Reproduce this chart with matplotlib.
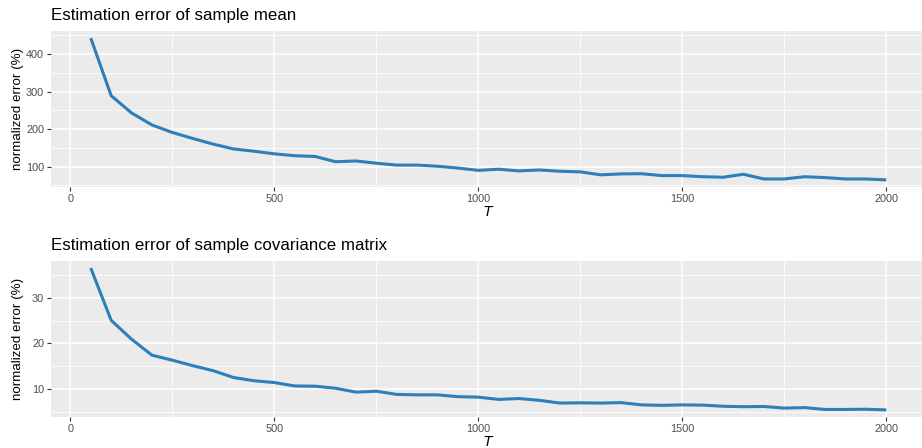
import numpy as np
import matplotlib
matplotlib.use("Agg")
import matplotlib.pyplot as plt
from matplotlib.ticker import MultipleLocator

plt.rcParams['font.family'] = ['Liberation Sans', 'DejaVu Sans']

# number of samples T
T = list(range(50, 2001, 50))

# normalized error (%) of the sample mean
err_mean = [442.6, 289, 243, 211, 191, 175, 160, 147, 141, 134,
            129, 127, 113, 115, 109, 104, 104, 101, 96, 90,
            93, 88.5, 91, 87.6, 86, 78, 80.5, 81, 76, 76,
            73, 71.6, 79.6, 67, 67, 73, 70.7, 67, 67, 64.5]

# normalized error (%) of the sample covariance matrix
err_cov = [36.5, 25.05, 20.9, 17.4, 16.3, 15.1, 14.0, 12.5, 11.8, 11.4,
           10.65, 10.6, 10.15, 9.3, 9.5, 8.8, 8.7, 8.7, 8.3, 8.2,
           7.7, 7.9, 7.5, 6.9, 6.95, 6.9, 7.0, 6.5, 6.4, 6.5,
           6.45, 6.2, 6.1, 6.15, 5.8, 5.9, 5.5, 5.5, 5.55, 5.4]

titles = ["Estimation error of sample mean",
          "Estimation error of sample covariance matrix"]

W, H = 922, 448
fig = plt.figure(figsize=(W / 100, H / 100), dpi=100)

# panel boxes in pixels: left, top, right, bottom
boxes = [(51, 31, 926, 187), (51, 261, 926, 417)]
ymajor = [100, 10]


def style_panel(ax, major):
    ax.set_facecolor('#EBEBEB')
    for s in ax.spines.values():
        s.set_visible(False)
    ax.xaxis.set_major_locator(MultipleLocator(500))
    ax.xaxis.set_minor_locator(MultipleLocator(250))
    ax.yaxis.set_major_locator(MultipleLocator(major))
    ax.yaxis.set_minor_locator(MultipleLocator(major / 2))
    ax.grid(which='major', color='white', linewidth=1.1)
    ax.grid(which='minor', color='white', linewidth=0.55)
    ax.set_axisbelow(True)
    ax.tick_params(which='major', direction='out', length=3, width=0.8,
                   color='#333333', labelsize=7.8, labelcolor='#4D4D4D', pad=2)
    ax.tick_params(which='minor', length=0)


for i, (y, box) in enumerate(zip([err_mean, err_cov], boxes)):
    l, t, r, b = box
    ax = fig.add_axes([l / W, 1 - b / H, (r - l) / W, (b - t) / H])
    style_panel(ax, ymajor[i])
    ax.plot(T, y, color='#2C7FB8', linewidth=2.2, solid_capstyle='butt')
    xr = T[-1] - T[0]
    ax.set_xlim(T[0] - 0.05 * xr, T[-1] + 0.05 * xr)
    yr = max(y) - min(y)
    ax.set_ylim(min(y) - 0.05 * yr, max(y) + 0.05 * yr)
    ax.set_xticks([0, 500, 1000, 1500, 2000])
    ax.set_xlabel('$T$', fontsize=10, labelpad=1)
    ax.set_ylabel('normalized error (%)', fontsize=9.6)
    ax.set_title(titles[i], loc='left', fontsize=12.2, pad=8, color='black')
    ax.yaxis.set_label_coords(-27 / (r - l), 0.5)

fig.savefig('out.png', dpi=100)
